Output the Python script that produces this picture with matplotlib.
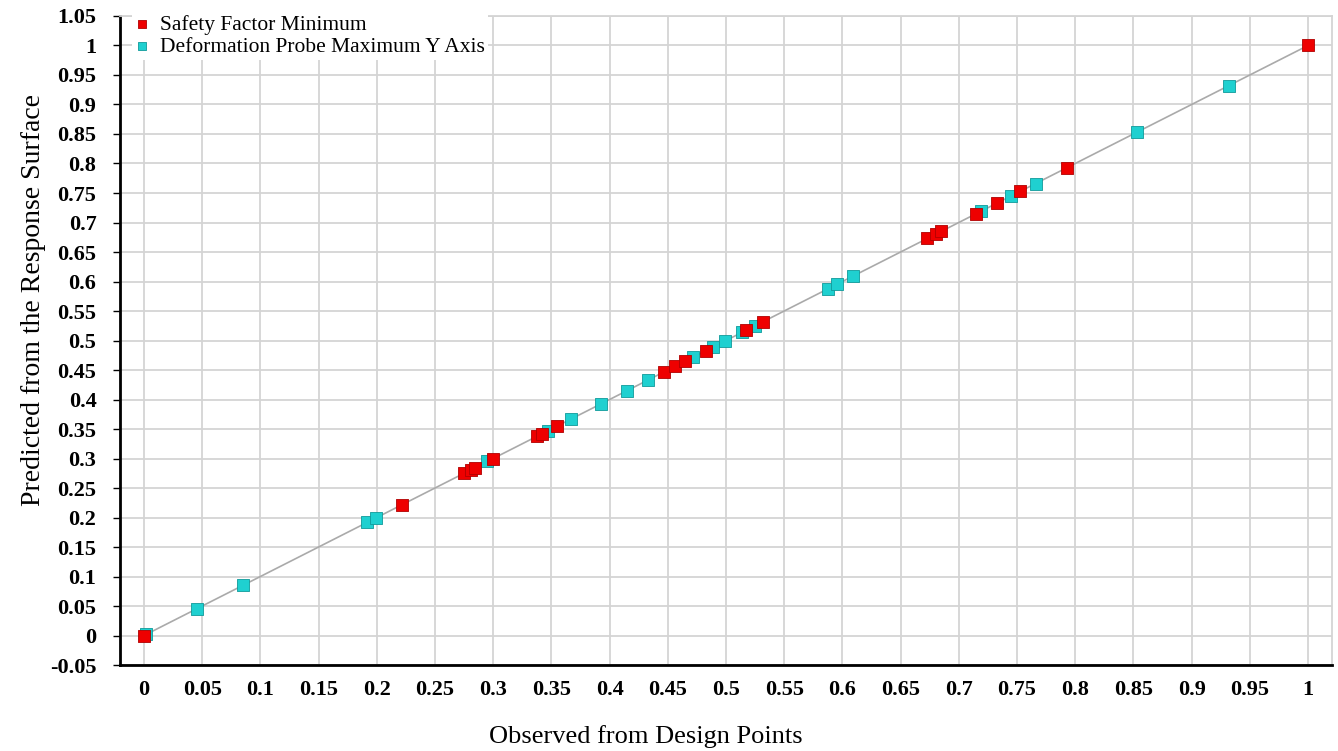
import numpy as np
import matplotlib.pyplot as plt

# Goodness of fit: observed vs predicted (normalized)
sf_obs = [0.0, 0.222, 0.275, 0.281, 0.284, 0.300, 0.338, 0.342, 0.355,
          0.447, 0.456, 0.465, 0.483, 0.517, 0.532,
          0.673, 0.680, 0.685, 0.715, 0.733, 0.753, 0.793, 1.0]
sf_pred = [0.0, 0.222, 0.275, 0.281, 0.284, 0.300, 0.338, 0.342, 0.355,
           0.447, 0.456, 0.465, 0.483, 0.517, 0.532,
           0.673, 0.680, 0.685, 0.715, 0.733, 0.753, 0.793, 1.0]

def_obs = [0.002, 0.0455, 0.085, 0.192, 0.199, 0.295, 0.347, 0.367, 0.393,
           0.415, 0.433, 0.472, 0.489, 0.499, 0.514, 0.525,
           0.588, 0.595, 0.609, 0.719, 0.745, 0.766, 0.853, 0.932]
def_pred = [0.002, 0.0455, 0.085, 0.192, 0.199, 0.295, 0.347, 0.367, 0.393,
            0.415, 0.433, 0.472, 0.489, 0.499, 0.514, 0.525,
            0.588, 0.595, 0.609, 0.719, 0.745, 0.766, 0.853, 0.932]

plt.rcParams['font.family'] = ['Liberation Serif', 'DejaVu Serif']

fig = plt.figure(figsize=(13.38, 7.51), dpi=100)
ax = fig.add_axes([0.0897, 0.1145, 0.9058, 0.8642])

ax.plot([0, 1], [0, 1], color='#aaaaaa', lw=1.2, zorder=2)
ax.scatter(sf_obs, sf_pred, marker='s', s=72, color='#ee0000',
           edgecolors='#b00000', linewidths=0.6, zorder=4,
           label='Safety Factor Minimum')
ax.scatter(def_obs, def_pred, marker='s', s=72, color='#1fd0d0',
           edgecolors='#109a9a', linewidths=0.6, zorder=3,
           label='Deformation Probe Maximum Y Axis')

ax.set_xlim(-0.0206, 1.0206)
ax.set_ylim(-0.05, 1.05)
ticks = np.round(np.arange(0, 1.0001, 0.05), 2)
yticks = np.round(np.arange(-0.05, 1.0501, 0.05), 2)
ax.set_xticks(ticks)
ax.set_yticks(yticks)
fmt = lambda v: ('%g' % v)
ax.set_xticklabels([fmt(v) for v in ticks], fontsize=16, fontweight='bold')
ax.set_yticklabels([fmt(v) for v in yticks], fontsize=16, fontweight='bold')
ax.tick_params(axis='x', length=0, pad=11)
ax.tick_params(axis='y', length=5, width=1, pad=12)

ax.grid(True, color='#d4d4d4', lw=1.3)
ax.set_axisbelow(True)
for s in ['left', 'bottom']:
    ax.spines[s].set_linewidth(2)
    ax.spines[s].set_color('black')
for s in ['top', 'right']:
    ax.spines[s].set_color('#d4d4d4')
    ax.spines[s].set_linewidth(1.3)

ax.set_xlabel('Observed from Design Points', fontsize=19, labelpad=18)
ax.xaxis.set_label_coords(0.434, -0.093)
ax.set_ylabel('Predicted from the Response Surface', fontsize=20, labelpad=8)
ax.yaxis.set_label_coords(-0.061, 0.562)

leg = ax.legend(loc='upper left', frameon=True, fontsize=15.5,
                handletextpad=0.55, borderaxespad=0.0, labelspacing=0.1,
                handlelength=0.6, markerscale=0.6, borderpad=0.15,
                bbox_to_anchor=(0.01, 1.007))
leg.get_frame().set_facecolor('white')
leg.get_frame().set_edgecolor('none')
leg.get_frame().set_alpha(1)
leg.get_frame().set_boxstyle('square', pad=0.0)

fig.savefig('out.png', dpi=100)
